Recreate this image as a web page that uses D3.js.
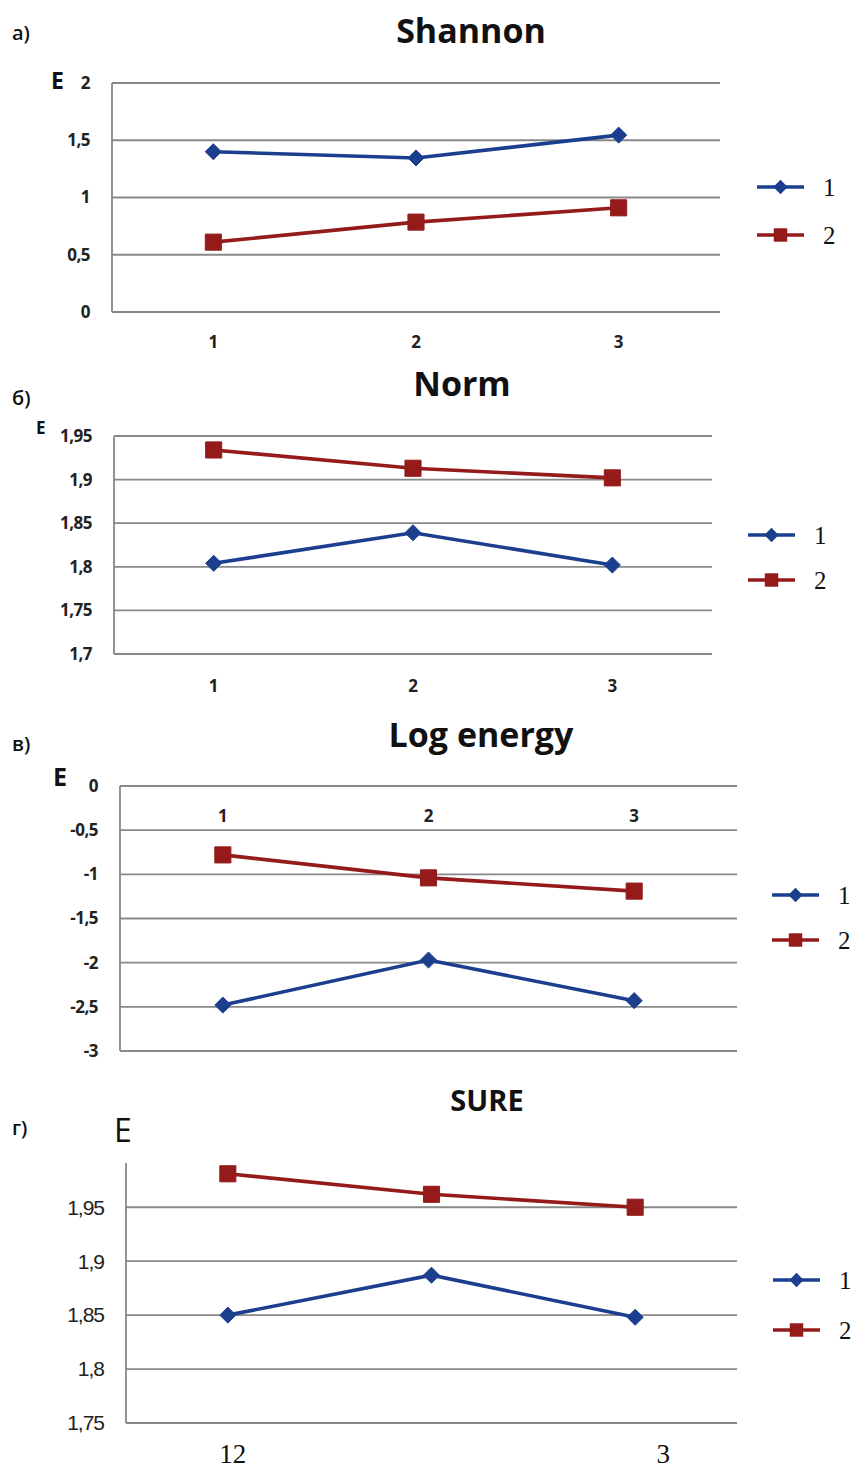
<!DOCTYPE html>
<html>
<head>
<meta charset="utf-8">
<script src="https://cdn.jsdelivr.net/npm/d3@7"></script>
<style>
  body { margin: 0; background: #fff; }
  svg { display: block; }
</style>
</head>
<body>
<div id="chart"></div>
<script>
// categories on the x axis
const categories = [1, 2, 3];
const seriesNames = ["1", "2"];

// values per panel, series 1 (blue diamonds) and series 2 (red squares)
const shannon1 = [1.40, 1.345, 1.545];
const shannon2 = [0.61, 0.785, 0.91];
const norm1 = [1.804, 1.839, 1.802];
const norm2 = [1.934, 1.913, 1.902];
const logEnergy1 = [-2.48, -1.97, -2.43];
const logEnergy2 = [-0.78, -1.04, -1.19];
const sure1 = [1.850, 1.887, 1.848];
const sure2 = [1.981, 1.962, 1.950];

// tick labels
const shannonTicks = [0, 0.5, 1, 1.5, 2];
const normTicks = [1.7, 1.75, 1.8, 1.85, 1.9, 1.95];
const logEnergyTicks = [-3, -2.5, -2, -1.5, -1, -0.5, 0];
const sureTicks = [1.75, 1.8, 1.85, 1.9, 1.95];
const sureXLabels = ["12", "", "3"];

const blue = "#1b3f8e", red = "#951b1b";
const fmt = d => String(d).replace(".", ",");

const panels = [
  { tag: "a)", title: "Shannon", titleSize: 34, s1: shannon1, s2: shannon2, ticks: shannonTicks, domain: [0, 2],
    left: 112, right: 720, top: 83, bottom: 312, titleX: 471, titleY: 43, tagY: 40,
    E: { x: 51, y: 89, size: 23 }, xLabelY: 348, legendY: [187, 235], legendX: 757 },
  { tag: "б)", title: "Norm", titleSize: 34, s1: norm1, s2: norm2, ticks: normTicks, domain: [1.7, 1.95],
    left: 114, right: 712, top: 436, bottom: 654, titleX: 462, titleY: 396, tagY: 405,
    E: { x: 36, y: 434, size: 17 }, xLabelY: 692, legendY: [535, 580], legendX: 748 },
  { tag: "в)", title: "Log energy", titleSize: 34, s1: logEnergy1, s2: logEnergy2, ticks: logEnergyTicks, domain: [-3, 0],
    left: 120, right: 737, top: 786, bottom: 1051, titleX: 481, titleY: 747, tagY: 751,
    E: { x: 53, y: 786, size: 25 }, xLabelY: 822, legendY: [895, 940], legendX: 772 },
  { tag: "г)", title: "SURE", titleSize: 29, s1: sure1, s2: sure2, ticks: sureTicks, domain: [1.75, 1.991],
    left: 126, right: 737, top: 1163, bottom: 1423, titleX: 487, titleY: 1111, tagY: 1135,
    E: { x: 114, y: 1142, size: 32, normal: true }, xLabelY: 1463, legendY: [1280, 1330], legendX: 773,
    serifX: true }
];

const svg = d3.select("#chart").append("svg")
  .attr("width", 859).attr("height", 1468);

panels.forEach(p => {
  const g = svg.append("g");
  const x = d3.scalePoint().domain(categories).range([p.left, p.right]).padding(0.5);
  const y = d3.scaleLinear().domain(p.domain).range([p.bottom, p.top]);

  // grid
  g.selectAll(".grid").data(p.ticks).enter().append("line")
    .attr("x1", p.left).attr("x2", p.right)
    .attr("y1", d => y(d)).attr("y2", d => y(d))
    .attr("stroke", "#888").attr("stroke-width", 1.8);
  g.append("line")
    .attr("x1", p.left).attr("x2", p.left).attr("y1", p.top).attr("y2", p.bottom)
    .attr("stroke", "#888").attr("stroke-width", 1.8);

  // y tick labels
  g.selectAll(".yt").data(p.ticks).enter().append("text")
    .attr("x", p.left - 22).attr("y", d => y(d)).attr("dy", "0.35em")
    .attr("text-anchor", "end")
    .style("font-family", p.serifX ? "'Liberation Sans Narrow', 'Liberation Sans'" : "'Open Sans', sans-serif")
    .style("font-weight", p.serifX ? "normal" : "bold")
    .style("font-size", p.serifX ? "21px" : "17px")
    .style("letter-spacing", p.serifX ? "-1px" : "-0.5px")
    .attr("fill", "#222")
    .text(fmt);

  // x tick labels
  if (p.serifX) {
    g.selectAll(".xt").data(categories).enter().append("text")
      .attr("x", (d, i) => x(d) + (i === 2 ? 28 : 5)).attr("y", p.xLabelY)
      .attr("text-anchor", "middle")
      .style("font-family", "'Liberation Serif', serif").style("font-size", "27px")
      .attr("fill", "#111")
      .text((d, i) => sureXLabels[i]);
  } else {
    g.selectAll(".xt").data(categories).enter().append("text")
      .attr("x", d => x(d)).attr("y", p.xLabelY)
      .attr("text-anchor", "middle")
      .style("font-family", "'Open Sans', sans-serif").style("font-weight", "bold").style("font-size", "17px")
      .attr("fill", "#222")
      .text(d => d);
  }

  // titles
  g.append("text").attr("x", p.titleX).attr("y", p.titleY).attr("text-anchor", "middle")
    .style("font-family", "'Open Sans', sans-serif").style("font-weight", "bold")
    .style("font-size", p.titleSize + "px").attr("fill", "#111")
    .text(p.title);
  g.append("text").attr("x", 12).attr("y", p.tagY)
    .style("font-family", "'Open Sans', sans-serif").style("font-weight", "600").style("font-size", "20px")
    .attr("fill", "#111").text(p.tag);
  g.append("text").attr("x", p.E.x).attr("y", p.E.y)
    .style("font-family", "'Open Sans', sans-serif").style("font-weight", p.E.normal ? "normal" : "bold")
    .style("font-size", p.E.size + "px").attr("fill", "#111").text("E");

  // series
  const series = [{ vals: p.s1, color: blue, shape: "diamond" }, { vals: p.s2, color: red, shape: "square" }];
  const line = d3.line().x((d, i) => x(categories[i])).y(d => y(d));
  series.forEach(s => {
    g.append("path").datum(s.vals).attr("d", line)
      .attr("fill", "none").attr("stroke", s.color).attr("stroke-width", 3.6);
    const sym = d3.symbol().type(s.shape === "diamond" ? d3.symbolDiamond2 : d3.symbolSquare2)
      .size(s.shape === "diamond" ? 165 : 330);
    g.selectAll(".pt").data(s.vals).enter().append("path")
      .attr("d", sym)
      .attr("transform", (d, i) => `translate(${x(categories[i])},${y(d)})`)
      .attr("fill", s.color).attr("stroke", s.color).attr("stroke-width", 1);
  });

  // legend
  series.forEach((s, i) => {
    const ly = p.legendY[i];
    g.append("line").attr("x1", p.legendX).attr("x2", p.legendX + 47).attr("y1", ly).attr("y2", ly)
      .attr("stroke", s.color).attr("stroke-width", 3.6);
    const sym = d3.symbol().type(s.shape === "diamond" ? d3.symbolDiamond2 : d3.symbolSquare2)
      .size(s.shape === "diamond" ? 130 : 230);
    g.append("path").attr("d", sym).attr("transform", `translate(${p.legendX + 23.5},${ly})`)
      .attr("fill", s.color);
    g.append("text").attr("x", p.legendX + 66).attr("y", ly).attr("dy", "0.35em")
      .style("font-family", "'Liberation Serif', serif").style("font-size", "25px").attr("fill", "#111")
      .text(seriesNames[i]);
  });
});
</script>
</body>
</html>
